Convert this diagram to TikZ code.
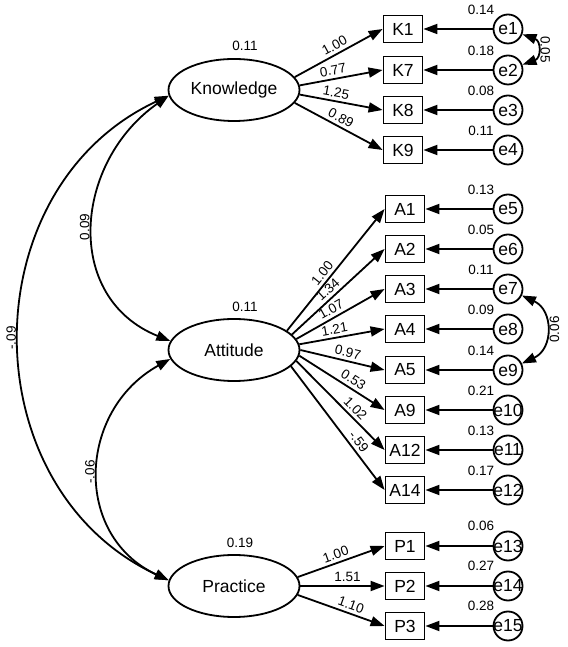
\documentclass[tikz,border=0pt]{standalone}
\usepackage{fontspec}
\setmainfont{Liberation Sans}
\usetikzlibrary{arrows.meta,shapes.geometric}
\begin{document}
\begin{tikzpicture}
  [x=1pt,y=1pt,line width=1.8pt,
   every node/.style={font=\fontsize{17.5}{20}\selectfont},
   latent/.style={ellipse,draw,minimum width=131pt,minimum height=62pt,inner sep=0pt},
   obs/.style={rectangle,draw,minimum width=39pt,minimum height=27pt,inner sep=0pt},
   err/.style={circle,draw,minimum size=29pt,inner sep=0pt},
   num/.style={font=\fontsize{13.5}{15}\selectfont,inner sep=3pt},
   load/.style={-{Triangle[length=14pt,width=10pt]}},
   cov/.style={{Triangle[length=14pt,width=10pt]}-{Triangle[length=14pt,width=10pt]}}]
\useasboundingbox (0,0) rectangle (567,647);

% latent factors
\node[latent] (kn) at (234,557) {Knowledge};
\node[latent] (att) at (234,297) {Attitude};
\node[latent] (pr) at (234,61) {Practice};
\node[num] (vkn) at (245,601) {0.11};
\node[num] (vatt) at (245,340) {0.11};
\node[num] (vpr) at (240,104) {0.19};

% items
\node[obs] (K1) at (403,618) {K1};
\node[obs] (K7) at (403,577) {K7};
\node[obs] (K8) at (403,537) {K8};
\node[obs] (K9) at (403,497) {K9};
\node[obs] (A1) at (405,438) {A1};
\node[obs] (A2) at (405,398) {A2};
\node[obs] (A3) at (405,358) {A3};
\node[obs] (A4) at (405,318) {A4};
\node[obs] (A5) at (405,277) {A5};
\node[obs] (A9) at (405,237) {A9};
\node[obs] (A12) at (405,197) {A12};
\node[obs] (A14) at (405,157) {A14};
\node[obs] (P1) at (405,101) {P1};
\node[obs] (P2) at (405,61) {P2};
\node[obs] (P3) at (405,21) {P3};

% errors
\node[err] (e1) at (508,618) {\makebox[0pt]{e1}};
\node[err] (e2) at (508,577) {\makebox[0pt]{e2}};
\node[err] (e3) at (508,537) {\makebox[0pt]{e3}};
\node[err] (e4) at (508,497) {\makebox[0pt]{e4}};
\node[err] (e5) at (508,438) {\makebox[0pt]{e5}};
\node[err] (e6) at (508,398) {\makebox[0pt]{e6}};
\node[err] (e7) at (508,358) {\makebox[0pt]{e7}};
\node[err] (e8) at (508,318) {\makebox[0pt]{e8}};
\node[err] (e9) at (508,277) {\makebox[0pt]{e9}};
\node[err] (e10) at (508,237) {\makebox[0pt]{e10}};
\node[err] (e11) at (508,197) {\makebox[0pt]{e11}};
\node[err] (e12) at (508,157) {\makebox[0pt]{e12}};
\node[err] (e13) at (508,101) {\makebox[0pt]{e13}};
\node[err] (e14) at (508,61) {\makebox[0pt]{e14}};
\node[err] (e15) at (508,21) {\makebox[0pt]{e15}};

% error variances
\node[num] (v1) at (481,637) {0.14};
\node[num] (v2) at (481,596) {0.18};
\node[num] (v3) at (481,556) {0.08};
\node[num] (v4) at (481,516) {0.11};
\node[num] (v5) at (481,457) {0.13};
\node[num] (v6) at (481,417) {0.05};
\node[num] (v7) at (481,377) {0.11};
\node[num] (v8) at (481,337) {0.09};
\node[num] (v9) at (481,296) {0.14};
\node[num] (v10) at (481,256) {0.21};
\node[num] (v11) at (481,216) {0.13};
\node[num] (v12) at (481,176) {0.17};
\node[num] (v13) at (481,121) {0.06};
\node[num] (v14) at (481,81) {0.27};
\node[num] (v15) at (481,41) {0.28};

% loadings
\path[load]
  (kn.12) edge node[num,sloped,above,pos=.5] {1.00} (K1.west)
  (kn.4) edge node[num,sloped,above,pos=.42] {0.77} (K7.west)
  (kn.-4) edge node[num,sloped,above,pos=.42] {1.25} (K8.west)
  (kn.-12) edge node[num,sloped,above,pos=.48] {0.89} (K9.west);
\path[load]
  (att.20) edge node[num,sloped,above,pos=.43] {1.00} (A1.west)
  (att.15) edge node[num,sloped,above,pos=.45] {1.34} (A2.west)
  (att.10) edge node[num,sloped,above,pos=.44] {1.07} (A3.west)
  (att.5) edge node[num,sloped,above,pos=.43] {1.21} (A4.west)
  (att.0) edge node[num,sloped,above,pos=.54] {0.97} (A5.west)
  (att.-5) edge node[num,sloped,above,pos=.58] {0.53} (A9.west)
  (att.-10) edge node[num,sloped,above,pos=.6] {1.02} (A12.west)
  (att.-16) edge node[num,sloped,above,pos=.65] {-.59} (A14.west);
\path[load]
  (pr.8) edge node[num,sloped,above,pos=.47] {1.00} (P1.west)
  (pr.0) edge node[num,sloped,above,pos=.56] {1.51} (P2.west)
  (pr.-8) edge node[num,sloped,above,pos=.58] {1.10} (P3.west);

% error paths
\path[load]
  (e1) edge (K1) (e2) edge (K7) (e3) edge (K8) (e4) edge (K9)
  (e5) edge (A1) (e6) edge (A2) (e7) edge (A3) (e8) edge (A4)
  (e9) edge (A5) (e10) edge (A9) (e11) edge (A12) (e12) edge (A14)
  (e13) edge (P1) (e14) edge (P2) (e15) edge (P3);

% covariances
\path[cov]
  (kn.185) edge[out=205,in=155,distance=219] node[num,rotate=90,anchor=south] {-.09} (pr.175)
  (kn.185) edge[out=215,in=158,distance=116] node[num,rotate=90,anchor=south] {0.09} (att.172)
  (att.188) edge[out=209,in=155,distance=106] node[num,rotate=90,anchor=south] {-.06} (pr.175);
\path[cov]
  (e1) edge[out=-20,in=20,distance=20] node[num,rotate=-90,anchor=south] {0.05} (e2)
  (e7) edge[out=-25,in=25,distance=35] node[num,rotate=90,anchor=north] {0.06} (e9);
\end{tikzpicture}
\end{document}
